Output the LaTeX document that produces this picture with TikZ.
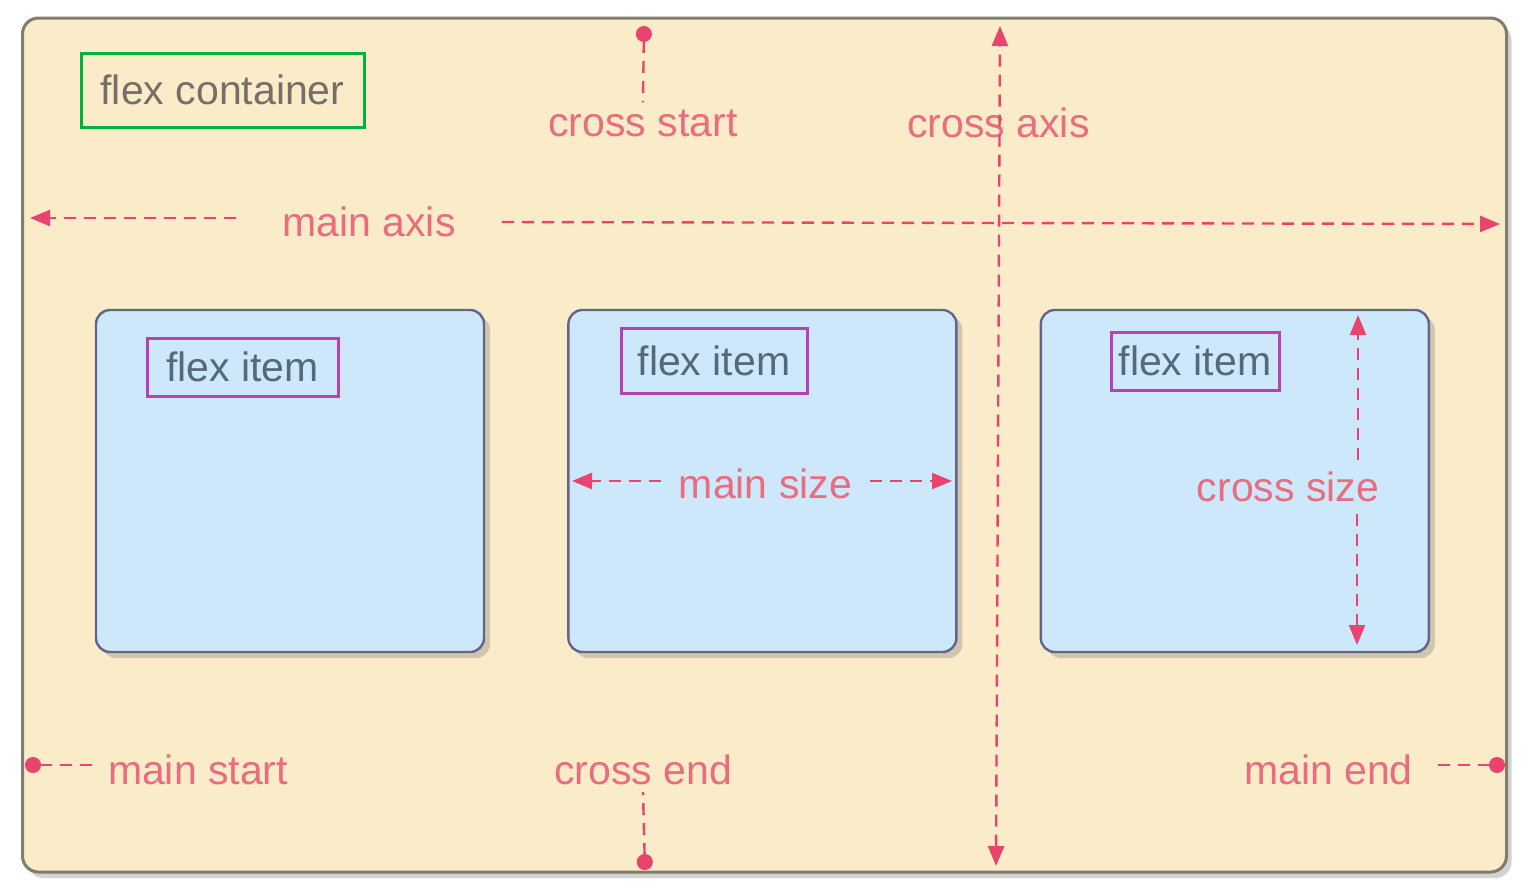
\documentclass[tikz,border=0pt]{standalone}
\usepackage{fontspec}
\setmainfont{Liberation Sans}
\usepackage{xcolor}
\usetikzlibrary{arrows.meta, positioning, shadows}

\definecolor{cream}{RGB}{250,236,201}
\definecolor{itemblue}{RGB}{205,232,251}
\definecolor{axispink}{RGB}{232,68,110}
\definecolor{labelpink}{RGB}{234,108,126}
\definecolor{framegreen}{RGB}{0,180,58}
\definecolor{framemagenta}{RGB}{184,64,176}
\definecolor{itemtext}{RGB}{86,104,122}
\definecolor{edgegray}{RGB}{128,124,110}

\begin{document}
\begin{tikzpicture}[
    x=0.5pt, y=-0.5pt,
    font=\fontsize{20.5}{24}\selectfont,
    >={Triangle[length=10pt,width=8pt]},
    container/.style={
      draw=edgegray,
      line width=1.5pt,
      fill=cream,
      rounded corners=8pt,
      minimum width=742pt,
      minimum height=427pt,
      drop shadow={shadow xshift=2.5pt, shadow yshift=-3pt, opacity=0.35}
    },
    flexbox/.style={
      draw=edgegray!80!blue,
      line width=1.2pt,
      fill=itemblue,
      rounded corners=7pt,
      minimum width=194pt,
      minimum height=171pt,
      drop shadow={shadow xshift=3pt, shadow yshift=-3pt, opacity=0.35}
    },
    itemlabel/.style={
      draw=framemagenta,
      line width=1.5pt,
      text=itemtext,
      minimum height=29pt
    },
    axislabel/.style={text=labelpink},
    axisline/.style={
      draw=axispink,
      line width=1.2pt,
      dash pattern=on 6pt off 4pt
    },
    dotstart/.style={{Circle[length=8pt]}-},
    node distance=41pt
]

% 0) page
\fill[white] (0,0) rectangle (1530,894);
\useasboundingbox (0,0) rectangle (1530,894);

% 1) the flex container
\node[container] (box) at (764.5,445) {};
\node[draw=framegreen, line width=1.5pt, text=itemtext!70!brown,
      minimum width=141.5pt, minimum height=37pt] (title) at (222.5,90) {flex container};

% 2) three flex items
\node[flexbox] (item1) at (290,481) {};
\node[flexbox, right=41pt of item1] (item2) {};
\node[flexbox, right=41pt of item2] (item3) {};

\node[itemlabel, minimum width=95.5pt] (label1) at (242.5,367) {flex item};
\node[itemlabel, minimum width=93pt, minimum height=32.5pt] (label2) at (714,360.5) {flex item};
\node[itemlabel, minimum width=84pt] (label3) at (1195,361) {flex item};

% 3) axis labels
\node[axislabel, inner xsep=23pt] (mainaxis) at (369,222) {main axis};
\node[axislabel] (crossstart) at (643,123) {cross start};
\node[axislabel] (crossaxis) at (998.5,123) {cross axis};
\node[axislabel, inner xsep=8pt] (mainstart) at (198,770) {main start};
\node[axislabel] (crossend) at (643,770) {cross end};
\node[axislabel, inner xsep=10pt] (mainend) at (1328.5,770) {main end};
\node[axislabel, inner xsep=9pt] (mainsize) at (765.5,484) {main size};
\node[axislabel, inner ysep=6pt] (crosssize) at (1288,487) {cross size};

% 4) end points
\coordinate (axisL) at (30,218);
\coordinate (axisR) at (1500,224);
\coordinate (crossT) at (1000,26);
\coordinate (crossB) at (996,866);
\coordinate (csdot) at (644,26);
\coordinate (cedot) at (645,870);
\coordinate (msdot) at (25,765);
\coordinate (medot) at (1505,765);
\coordinate (sizeL) at (572,481);
\coordinate (sizeR) at (952,481);
\coordinate (sizeT) at (1358,315);
\coordinate (sizeB) at (1357,645);

% ARROWS
% main axis
\draw[axisline, ->] (mainaxis.west |- axisL) -- (axisL);
\draw[axisline, ->] (mainaxis.east) -- (axisR);

% cross axis
\draw[axisline, <->] (crossB) -- (crossT);

% start and end marks
\draw[axisline, dotstart] (csdot) -- (crossstart.north);
\draw[axisline, dotstart] (cedot) -- (crossend.south);
\draw[axisline, dotstart] (msdot) -- (mainstart.west |- msdot);
\draw[axisline, dotstart] (medot) -- (mainend.east |- medot);

% main size and cross size
\draw[axisline, ->] (mainsize.west |- sizeL) -- (sizeL);
\draw[axisline, ->] (mainsize.east |- sizeR) -- (sizeR);
\draw[axisline, ->] (sizeT |- crosssize.north) -- (sizeT);
\draw[axisline, ->] (sizeB |- crosssize.south) -- (sizeB);

\end{tikzpicture}
\end{document}
